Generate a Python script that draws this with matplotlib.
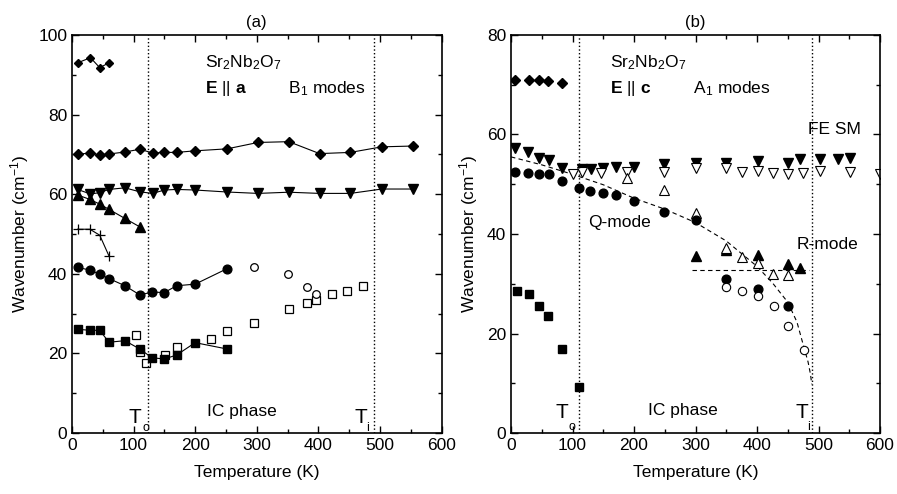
import matplotlib
matplotlib.use('Agg')
import matplotlib.pyplot as plt
from matplotlib.ticker import MultipleLocator

plt.rcParams['font.family'] = ['Liberation Sans', 'DejaVu Sans']
plt.rcParams['mathtext.fontset'] = 'custom'
plt.rcParams['mathtext.rm'] = 'Liberation Sans'
plt.rcParams['mathtext.it'] = 'Liberation Sans:italic'
plt.rcParams['mathtext.bf'] = 'Liberation Sans:bold'
plt.rcParams['font.size'] = 12

# ---- panel (a): E || a, B1 modes ----
a_dia_top_t = [9, 30, 45, 60]
a_dia_top_w = [93.0, 94.3, 91.8, 93.0]

a_dia_t = [9, 30, 45, 60, 86, 110, 131, 150, 170, 200, 252, 302, 352, 402, 452, 503, 553]
a_dia_w = [70.1, 70.3, 69.9, 70.1, 70.6, 71.3, 70.35, 70.5, 70.5, 70.9, 71.4, 73.0, 73.2, 70.2, 70.5, 71.9, 72.1]

a_inv_t = [9, 30, 45, 60, 86, 110, 131, 150, 170, 200, 252, 302, 352, 402, 452, 503, 553]
a_inv_w = [61.2, 60.05, 60.4, 61.2, 61.6, 60.6, 60.2, 61.05, 61.2, 61.05, 60.55, 60.2, 60.5, 60.2, 60.2, 61.3, 61.3]

a_tri_t = [9, 29, 45, 60, 86, 110]
a_tri_w = [59.8, 58.7, 57.5, 56.2, 53.9, 51.8]

a_plus_t = [9, 29, 45, 60]
a_plus_w = [51.2, 51.2, 49.7, 44.5]

a_circ_t = [9, 29, 45, 60, 86, 110, 130, 150, 170, 200, 252]
a_circ_w = [41.6, 40.95, 39.9, 38.8, 37.0, 34.7, 35.4, 35.3, 37.0, 37.4, 41.3]

a_ocirc_t = [296, 351, 381, 397]
a_ocirc_w = [41.8, 39.9, 36.8, 34.8]

a_sq_t = [9, 30, 45, 60, 86, 110, 130, 150, 170, 200, 252]
a_sq_w = [26.05, 25.8, 25.8, 22.8, 23.2, 21.1, 18.9, 18.6, 19.6, 22.7, 21.1]

a_osq_t = [104, 110, 120, 151, 170, 226, 252, 296, 352, 381, 397, 422, 447, 472]
a_osq_w = [24.7, 20.3, 17.7, 19.6, 21.7, 23.6, 25.6, 27.6, 31.1, 32.7, 33.4, 34.8, 35.8, 36.9]

# ---- panel (b): E || c, A1 modes ----
b_dia_t = [6, 30, 45, 60, 83]
b_dia_w = [70.9, 70.9, 70.9, 70.8, 70.4]

b_inv_t = [6, 28, 45, 61, 83, 115, 130, 150, 171, 200, 249, 300, 350, 401, 450, 470, 502, 531, 552]
b_inv_w = [57.3, 56.5, 55.3, 54.9, 53.3, 53.1, 53.0, 53.2, 53.5, 53.5, 54.1, 54.3, 54.3, 54.7, 54.3, 55.0, 55.0, 55.0, 55.2]

b_oinv_t = [100, 115, 146, 189, 249, 300, 350, 375, 401, 426, 450, 475, 502, 552, 600]
b_oinv_w = [52.1, 52.5, 52.2, 52.5, 52.5, 53.2, 53.2, 52.5, 52.7, 52.3, 52.1, 52.3, 52.7, 52.5, 52.1]

b_otri_t = [189, 249, 300, 350, 375, 401, 426, 450]
b_otri_w = [51.3, 48.9, 44.2, 37.1, 35.4, 34.2, 32.0, 31.8]

b_tri_t = [300, 350, 401, 450, 470]
b_tri_w = [35.5, 36.8, 35.8, 34.0, 33.1]

b_circ_t = [6, 28, 45, 61, 83, 110, 129, 150, 171, 200, 249, 300, 350, 401, 450]
b_circ_w = [52.5, 52.2, 52.1, 52.1, 50.7, 49.2, 48.6, 48.3, 47.8, 46.6, 44.5, 42.8, 30.9, 28.9, 25.6]

b_ocirc_t = [350, 375, 401, 427, 450, 477]
b_ocirc_w = [29.4, 28.6, 27.6, 25.6, 21.6, 16.7]

b_sq_t = [9, 29, 45, 60, 83, 110]
b_sq_w = [28.6, 27.9, 25.5, 23.5, 16.9, 9.2]

# dashed guide curves
b_fit_t = [0, 50, 100, 150, 200, 250, 300, 350, 400, 425, 450, 465, 475, 483, 487, 489]
b_fit_w = [55.5, 53.9, 52.0, 49.9, 47.2, 45.0, 42.3, 38.6, 33.5, 30.2, 26.3, 22.3, 17.8, 14.3, 11.8, 9.8]
b_hline_t = [295, 485]
b_hline_w = [32.8, 32.8]

fig = plt.figure(figsize=(8.97, 4.94), dpi=100)
ax1 = fig.add_axes([72 / 897, 61 / 494, 369.5 / 897, 398 / 494])
ax2 = fig.add_axes([511 / 897, 61 / 494, 369 / 897, 398 / 494])

lw = 0.8
k = 'black'

# panel (a)
ax1.plot(a_dia_top_t, a_dia_top_w, '-D', color=k, ms=4.5, lw=lw)
ax1.plot(a_dia_t, a_dia_w, '-D', color=k, ms=5.5, lw=lw)
ax1.plot(a_inv_t, a_inv_w, '-v', color=k, ms=6.5, lw=lw)
ax1.plot(a_tri_t, a_tri_w, '-^', color=k, ms=6.5, lw=lw)
ax1.plot(a_plus_t, a_plus_w, '-+', color=k, ms=7, lw=lw, mew=0.9)
ax1.plot(a_circ_t, a_circ_w, '-o', color=k, ms=6.3, lw=lw)
ax1.plot(a_osq_t, a_osq_w, 's', mfc='white', mec=k, ms=5.5, mew=0.9, ls='none')
ax1.plot(a_ocirc_t, a_ocirc_w, 'o', mfc='white', mec=k, ms=5.5, mew=0.9, ls='none')
ax1.plot(a_sq_t, a_sq_w, '-s', color=k, ms=6, lw=lw)
ax1.axvline(124, color=k, ls=':', lw=1)
ax1.axvline(490, color=k, ls=':', lw=1)

ax1.text(216, 93, 'Sr$_2$Nb$_2$O$_7$', fontsize=12.5, va='center')
ax1.text(216, 86.5, r'$\mathbf{E}$ || $\mathbf{a}$         B$_1$ modes', fontsize=12.5, va='center')
ax1.text(92, 3.8, 'T', fontsize=15, va='center')
ax1.text(115, 1.2, 'o', fontsize=9, va='center')
ax1.text(220, 5.5, 'IC phase', fontsize=12.5, va='center')
ax1.text(458, 3.8, 'T', fontsize=15, va='center')
ax1.text(478, 1.3, 'i', fontsize=9, va='center')
ax1.set_title('(a)', fontsize=12, pad=6)
ax1.set_xlim(0, 600)
ax1.set_ylim(0, 100)
ax1.yaxis.set_major_locator(MultipleLocator(20))
ax1.yaxis.set_minor_locator(MultipleLocator(10))
ax1.set_ylabel('Wavenumber (cm$^{-1}$)', fontsize=12.5, labelpad=5)

# panel (b)
ax2.plot(b_dia_t, b_dia_w, 'D', color=k, ms=5.5, ls='none')
ax2.plot(b_fit_t, b_fit_w, '--', color=k, lw=0.8, dashes=(4, 3))
ax2.plot(b_hline_t, b_hline_w, '--', color=k, lw=0.8, dashes=(4, 3))
ax2.plot(b_inv_t, b_inv_w, 'v', color=k, ms=6.5, ls='none')
ax2.plot(b_oinv_t, b_oinv_w, 'v', mfc='white', mec=k, ms=6.5, mew=0.8, ls='none')
ax2.plot(b_tri_t, b_tri_w, '^', color=k, ms=6.5, ls='none')
ax2.plot(b_otri_t, b_otri_w, '^', mfc='white', mec=k, ms=6.5, mew=0.8, ls='none')
ax2.plot(b_circ_t, b_circ_w, 'o', color=k, ms=6.3, ls='none')
ax2.plot(b_ocirc_t, b_ocirc_w, 'o', mfc='white', mec=k, ms=6, mew=0.8, ls='none')
ax2.plot(b_sq_t, b_sq_w, 's', color=k, ms=6, ls='none')
ax2.axvline(110.5, color=k, ls=':', lw=1)
ax2.axvline(489, color=k, ls=':', lw=1)

ax2.text(161, 74.4, 'Sr$_2$Nb$_2$O$_7$', fontsize=12.5, va='center')
ax2.text(161, 69.2, r'$\mathbf{E}$ || $\mathbf{c}$         A$_1$ modes', fontsize=12.5, va='center')
ax2.text(483, 61, 'FE SM', fontsize=12.5, va='center')
ax2.text(125, 42.4, 'Q-mode', fontsize=12.5, va='center')
ax2.text(465, 37.8, 'R-mode', fontsize=12.5, va='center')
ax2.text(72, 4.2, 'T', fontsize=15, va='center')
ax2.text(93, 1.2, 'o', fontsize=9, va='center')
ax2.text(223, 4.6, 'IC phase', fontsize=12.5, va='center')
ax2.text(462, 4.2, 'T', fontsize=15, va='center')
ax2.text(481, 1.3, 'i', fontsize=9, va='center')
ax2.set_title('(b)', fontsize=12, pad=6)
ax2.set_xlim(0, 600)
ax2.set_ylim(0, 80)
ax2.yaxis.set_major_locator(MultipleLocator(20))
ax2.yaxis.set_minor_locator(MultipleLocator(10))
ax2.set_ylabel('Wavenumber (cm$^{-1}$)', fontsize=12.5, labelpad=5)

for ax in (ax1, ax2):
    ax.xaxis.set_major_locator(MultipleLocator(100))
    ax.xaxis.set_minor_locator(MultipleLocator(50))
    ax.set_xlabel('Temperature (K)', fontsize=12.5, labelpad=9)
    ax.tick_params(which='both', direction='in', top=True, right=True, labelsize=12.5)
    ax.tick_params(which='major', length=5, width=1)
    ax.tick_params(which='minor', length=3, width=1)
    for s in ax.spines.values():
        s.set_linewidth(1.2)

fig.savefig('out.png', dpi=100)
